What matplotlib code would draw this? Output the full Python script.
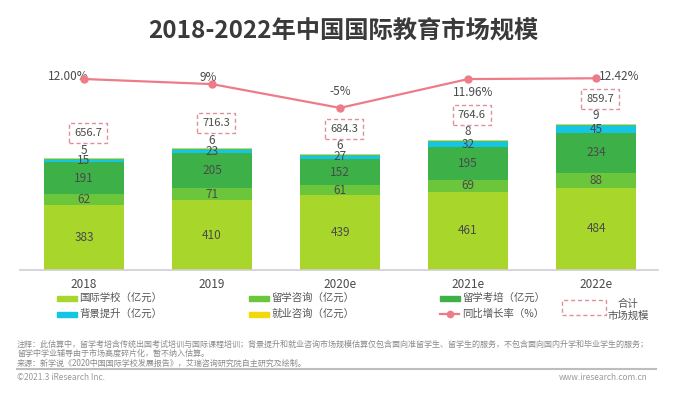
import numpy as np
import matplotlib
matplotlib.use("Agg")
import matplotlib.pyplot as plt
from matplotlib.patches import Rectangle
from matplotlib.lines import Line2D

plt.rcParams['font.family'] = ['Noto Sans CJK SC', 'DejaVu Sans']

# データ
years = ['2018', '2019', '2020e', '2021e', '2022e']
intl_school = [383, 410, 439, 461, 484]      # 国际学校
study_consult = [62, 71, 61, 69, 88]         # 留学咨询
exam_train = [191, 205, 152, 195, 234]       # 留学考培
background = [15, 23, 27, 32, 45]            # 背景提升
career = [5, 6, 6, 8, 9]                     # 就业咨询
totals = [656.7, 716.3, 684.3, 764.6, 859.7]
growth = [12.00, 9, -5, 11.96, 12.42]
growth_labels = ['12.00%', '9%', '-5%', '11.96%', '12.42%']

series_names = ['国际学校（亿元）', '留学咨询（亿元）', '留学考培（亿元）',
                '背景提升（亿元）', '就业咨询（亿元）']
colors = ['#A8D62B', '#6CC63C', '#3EB048', '#14C6E4', '#F2D90C']
line_color = '#EE7C88'
text_color = '#4a4a4a'

W, H = 684, 396
fig = plt.figure(figsize=(W / 100, H / 100), dpi=100)


def fx(px):
    return px / W


def fy(py):
    return 1 - py / H


# 軸の位置 (ピクセル基準)
ax = fig.add_axes([fx(20), fy(270), fx(658) - fx(20), fy(60) - fy(270)])
px_per_unit = 0.17
ax.set_ylim(0, 210 / px_per_unit)
ax.set_xlim(-0.5, 4.484)

x = np.arange(len(years))
bw = 0.62
stack = [intl_school, study_consult, exam_train, background, career]
bottom = np.zeros(len(years))
for vals, c in zip(stack, colors):
    ax.bar(x, vals, bw, bottom=bottom, color=c, edgecolor='none', zorder=2)
    bottom += np.array(vals)

# 値ラベル
u = 1 / px_per_unit  # 1ピクセル相当のデータ量
for i in range(len(years)):
    b = 0
    for k, vals in enumerate(stack[:4]):
        v = vals[i]
        ax.text(x[i], b + v / 2, str(v), ha='center', va='center',
                fontsize=8.5, color=text_color, zorder=3)
        b += v
    top = b + career[i]
    ax.text(x[i], top + 8 * u, str(career[i]), ha='center', va='center',
            fontsize=8.5, color=text_color, zorder=3)
    ax.text(x[i] + 0.03, totals[i] + 25 * u, f'{totals[i]:.1f}', ha='center', va='center',
            fontsize=8, color=text_color, zorder=4,
            bbox=dict(boxstyle='square,pad=0.45', fc='white', ec='#E0909A',
                      ls=(0, (3, 2)), lw=1))

ax.set_xticks(x)
ax.set_xticklabels(years, fontsize=8.5, color=text_color)
ax.tick_params(axis='x', length=0, pad=5.5)
ax.set_yticks([])
for s in ['top', 'right', 'left']:
    ax.spines[s].set_visible(False)
ax.spines['bottom'].set_color('#cfcfcf')
ax.spines['bottom'].set_linewidth(1.2)
ax.patch.set_alpha(0)

# 同比増長率 (第二軸)
ax2 = ax.twinx()
ax2.set_ylim(12 - 191 / 1.7, 12 + 19 / 1.7)
ax2.plot(x, growth, color=line_color, lw=1.6, marker='o', ms=5, zorder=5)
ax2.set_yticks([])
for s in ['top', 'right', 'left', 'bottom']:
    ax2.spines[s].set_visible(False)

label_offsets = [(3, 1.5, 'right'), (-3, 5, 'center'), (0, 11.5, 'center'),
                 (3.5, -9.5, 'center'), (2, 1, 'left')]
for i, (dx, dy, ha) in enumerate(label_offsets):
    ax2.annotate(growth_labels[i], (x[i], growth[i]), xytext=(dx, dy),
                 textcoords='offset points', ha=ha, va='center',
                 fontsize=8.5, color=text_color)

# タイトル
fig.text(fx(343), fy(31), '2018-2022年中国国际教育市场规模', ha='center', va='center',
         fontsize=17.5, fontweight='bold', color='#3a3a3a')

# 凡例 (手動配置)
leg_cols = [57, 249, 440]
leg_rows = [298, 314]
order = [(0, 0, 0), (0, 1, 1), (0, 2, 2), (1, 0, 3), (1, 1, 4)]
for r, cidx, k in order:
    lx, ly = leg_cols[cidx], leg_rows[r]
    fig.patches.append(Rectangle((fx(lx), fy(ly + 2.5)), fx(20), 5 / H,
                                 transform=fig.transFigure, color=colors[k]))
    fig.text(fx(lx + 22), fy(ly), series_names[k], ha='left', va='center',
             fontsize=7.5, color='#555555')
lx, ly = leg_cols[2], leg_rows[1]
fig.lines.append(Line2D([fx(lx), fx(lx + 19)], [fy(ly), fy(ly)],
                        transform=fig.transFigure, color=line_color, lw=1.6))
fig.lines.append(Line2D([fx(lx + 9.5)], [fy(ly)], transform=fig.transFigure,
                        color=line_color, marker='o', ms=4.5, ls='none'))
fig.text(fx(lx + 22), fy(ly), '同比增长率（%）', ha='left', va='center',
         fontsize=7.5, color='#555555')
fig.patches.append(Rectangle((fx(562), fy(315)), fx(44), 15 / H, transform=fig.transFigure,
                             fill=False, ec='#E0909A', ls=(0, (3, 2)), lw=1))
fig.text(fx(628), fy(304), '合计', ha='center', va='center', fontsize=7.5, color='#555555')
fig.text(fx(628), fy(316), '市场规模', ha='center', va='center', fontsize=7.5, color='#555555')

# 注釈
notes = [
    '注释：此估算中，留学考培含传统出国考试培训与国际课程培训；背景提升和就业咨询市场规模估算仅包含面向准留学生、留学生的服务，不包含面向国内升学和毕业学生的服务；',
    '留学中学业辅导由于市场高度碎片化，暂不纳入估算。',
    '来源：新学说《2020中国国际学校发展报告》，艾瑞咨询研究院自主研究及绘制。',
]
for j, t in enumerate(notes):
    fig.text(fx(17), fy(344 + 9.5 * j), t, ha='left', va='center', fontsize=5.8, color='#8a8a8a')
fig.lines.append(Line2D([fx(17), fx(656)], [fy(369), fy(369)], transform=fig.transFigure,
                        color='#bdbdbd', lw=1.5))
fig.text(fx(17), fy(378), '©2021.3 iResearch Inc.', ha='left', va='center',
         fontsize=6, color='#9a9a9a')
fig.text(fx(648), fy(378), 'www.iresearch.com.cn', ha='right', va='center',
         fontsize=6, color='#9a9a9a')

fig.savefig('out.png', dpi=100)
